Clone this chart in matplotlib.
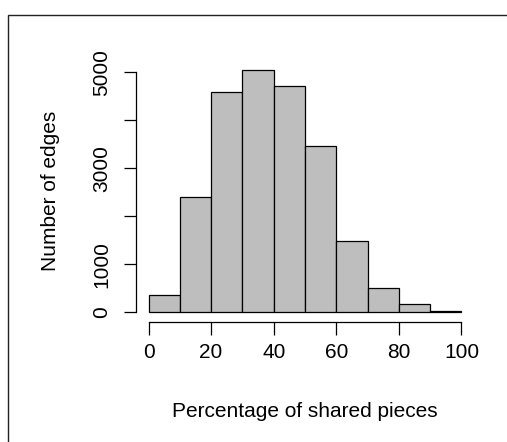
import matplotlib
matplotlib.use("Agg")
import matplotlib.pyplot as plt
from matplotlib.patches import Rectangle

plt.rcParams["font.family"] = ["Liberation Sans", "DejaVu Sans"]

bin_edges = [0, 10, 20, 30, 40, 50, 60, 70, 80, 90, 100]
counts = [354, 2396, 4597, 5055, 4715, 3458, 1479, 507, 167, 30]
x_ticks = [0, 20, 40, 60, 80, 100]
y_ticks = [0, 1000, 2000, 3000, 4000, 5000]
y_ticklabels = ["0", "1000", "", "3000", "", "5000"]

W, H = 507, 442
fig = plt.figure(figsize=(W / 100, H / 100), dpi=100)
ax = fig.add_axes([136 / W, (H - 322) / H, 338 / W, 262 / H])

lefts = bin_edges[:-1]
widths = [b - a for a, b in zip(bin_edges[:-1], bin_edges[1:])]
ax.bar(lefts, counts, width=widths, align="edge", color="#bebebe",
       edgecolor="black", linewidth=0.9)

ax.set_xlim(-4, 104)
ax.set_ylim(-202, 5257)
for s in ["top", "right"]:
    ax.spines[s].set_visible(False)
ax.spines["left"].set_bounds(0, 5000)
ax.spines["bottom"].set_bounds(0, 100)
for s in ["left", "bottom"]:
    ax.spines[s].set_linewidth(0.9)

ax.set_xticks(x_ticks)
ax.set_yticks(y_ticks)
ax.set_yticklabels(y_ticklabels, rotation=90, va="center")
ax.tick_params(axis="both", length=9, width=0.9, labelsize=15, colors="black")
ax.tick_params(axis="x", pad=6)
ax.tick_params(axis="y", pad=9)

ax.set_xlabel("Percentage of shared pieces", fontsize=15, labelpad=29)
ax.set_ylabel("Number of edges", fontsize=15, labelpad=23)

# outer box, partly cut off at right and bottom
fig.add_artist(Rectangle((8 / W, -0.1), 1.2, (H - 15) / H + 0.1,
                         transform=fig.transFigure, fill=False,
                         edgecolor="#222222", linewidth=1.0))

fig.savefig("out.png", dpi=100)
plt.close(fig)
